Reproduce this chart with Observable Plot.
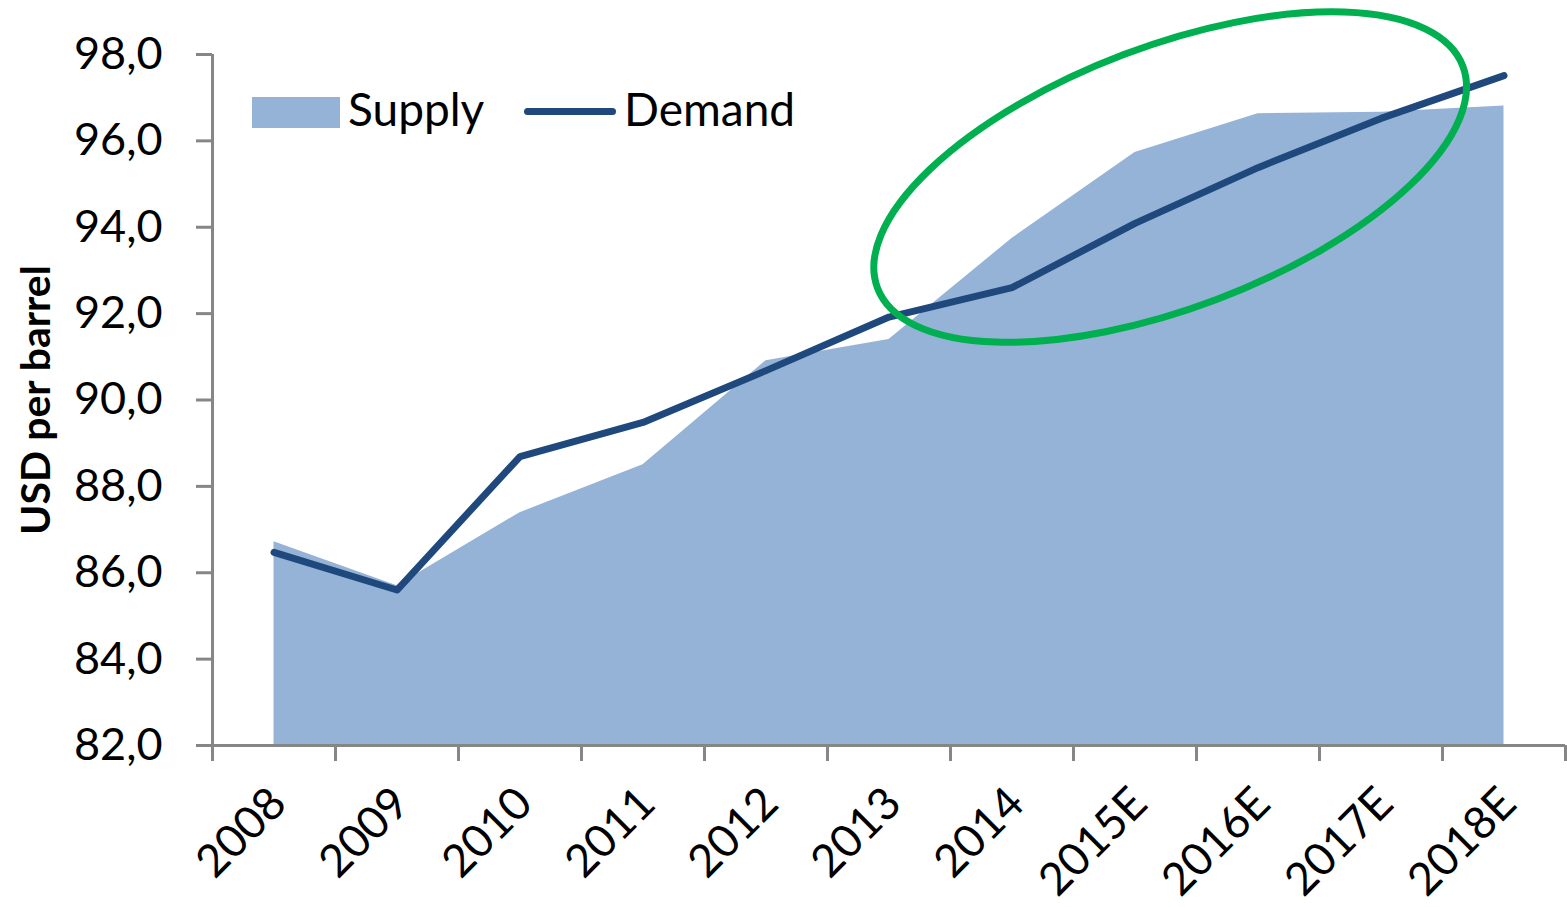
<!DOCTYPE html>
<html><head><meta charset="utf-8">
<script src="https://cdn.jsdelivr.net/npm/d3@7"></script>
<script src="https://cdn.jsdelivr.net/npm/@observablehq/plot@0.6"></script>
<style>
html,body{margin:0;padding:0;background:#fff;}
#wrap{position:relative;width:1567px;height:907px;font-family:Lato,"Open Sans",sans-serif;color:#000;}
#chart svg g[aria-label^="y-axis"] line,
#chart svg g[aria-label^="y-axis"] path,
#chart svg g[aria-label^="x-axis"] line,
#chart svg g[aria-label^="x-axis"] path{stroke:#868686;stroke-width:3px;}
.lg{position:absolute;}
.lgt{position:absolute;font-size:46px;line-height:46px;white-space:nowrap;}
</style></head><body>
<div id="wrap">
  <div id="chart"></div>
  <div class="lg" style="left:252px;top:97px;width:88px;height:31px;background:#95B3D7;"></div>
  <div class="lgt" style="left:348px;top:86px;">Supply</div>
  <div class="lg" style="left:524px;top:108px;width:92px;height:7px;border-radius:4px;background:#1F497D;"></div>
  <div class="lgt" style="left:624px;top:86px;">Demand</div>
</div>
<script>
const categories = ["2008","2009","2010","2011","2012","2013","2014","2015E","2016E","2017E","2018E"];
const supply = [86.72, 85.70, 87.39, 88.50, 90.91, 91.40, 93.74, 95.73, 96.63, 96.66, 96.81];
const demand = [86.47, 85.60, 88.69, 89.48, 90.68, 91.92, 92.60, 94.09, 95.38, 96.52, 97.51];
const yTicks = [82, 84, 86, 88, 90, 92, 94, 96, 98];
const yLabel = "USD per barrel";
// highlight ellipse annotation: centre in data units (category index, USD), radii in px
const highlight = {x: 7.29, y: 95.15, rx: 313, ry: 131, angle: -20.75};

const data = categories.map((c, i) => ({i, c, supply: supply[i], demand: demand[i]}));
const boundaries = categories.map((c, i) => i - 0.5).concat([categories.length - 0.5]);

const chart = Plot.plot({
  width: 1567,
  height: 907,
  marginLeft: 212,
  marginRight: 2,
  marginTop: 54,
  marginBottom: 162,
  style: {fontFamily: "Lato, 'Open Sans', sans-serif", fontSize: "45px", color: "#000", background: "white", overflow: "visible"},
  x: {domain: [-0.5, categories.length - 0.5], ticks: boundaries, tickFormat: () => "", tickSize: 16, label: null},
  y: {domain: [82, 98], ticks: yTicks, tickFormat: d => d.toFixed(1).replace(".", ","), tickSize: 16, tickPadding: 34, label: null},
  marks: [
    Plot.areaY(data, {x: "i", y1: () => 82, y2: "supply", fill: "#95B3D7"}),
    Plot.line(data, {x: "i", y: "demand", stroke: "#1F497D", strokeWidth: 7, strokeLinejoin: "round", strokeLinecap: "round"}),
    Plot.ruleY([82], {stroke: "#868686", strokeWidth: 3}),
    Plot.ruleX([-0.5], {stroke: "#868686", strokeWidth: 3}),
    Plot.text(data, {x: "i", y: () => 82, text: "c", rotate: -45, textAnchor: "end", lineAnchor: "top", dx: -8, dy: 38, fontSize: 45, fill: "#000"}),
    Plot.text([yLabel], {frameAnchor: "left", text: d => d, rotate: -90, textAnchor: "middle", dx: -176, fontSize: 41, fontWeight: "bold", fill: "#000"})
  ]
});
document.getElementById("chart").appendChild(chart);

const sx = chart.scale("x"), sy = chart.scale("y");
const lin = (s, v) => s.apply ? s.apply(v) : s.range[0] + (v - s.domain[0]) / (s.domain[1] - s.domain[0]) * (s.range[1] - s.range[0]);
const cx = lin(sx, highlight.x), cy = lin(sy, highlight.y);
d3.select(chart).append("ellipse")
  .attr("cx", cx).attr("cy", cy)
  .attr("rx", highlight.rx).attr("ry", highlight.ry)
  .attr("transform", `rotate(${highlight.angle} ${cx} ${cy})`)
  .attr("fill", "none").attr("stroke", "#00B050").attr("stroke-width", 7);
</script>
</body></html>
